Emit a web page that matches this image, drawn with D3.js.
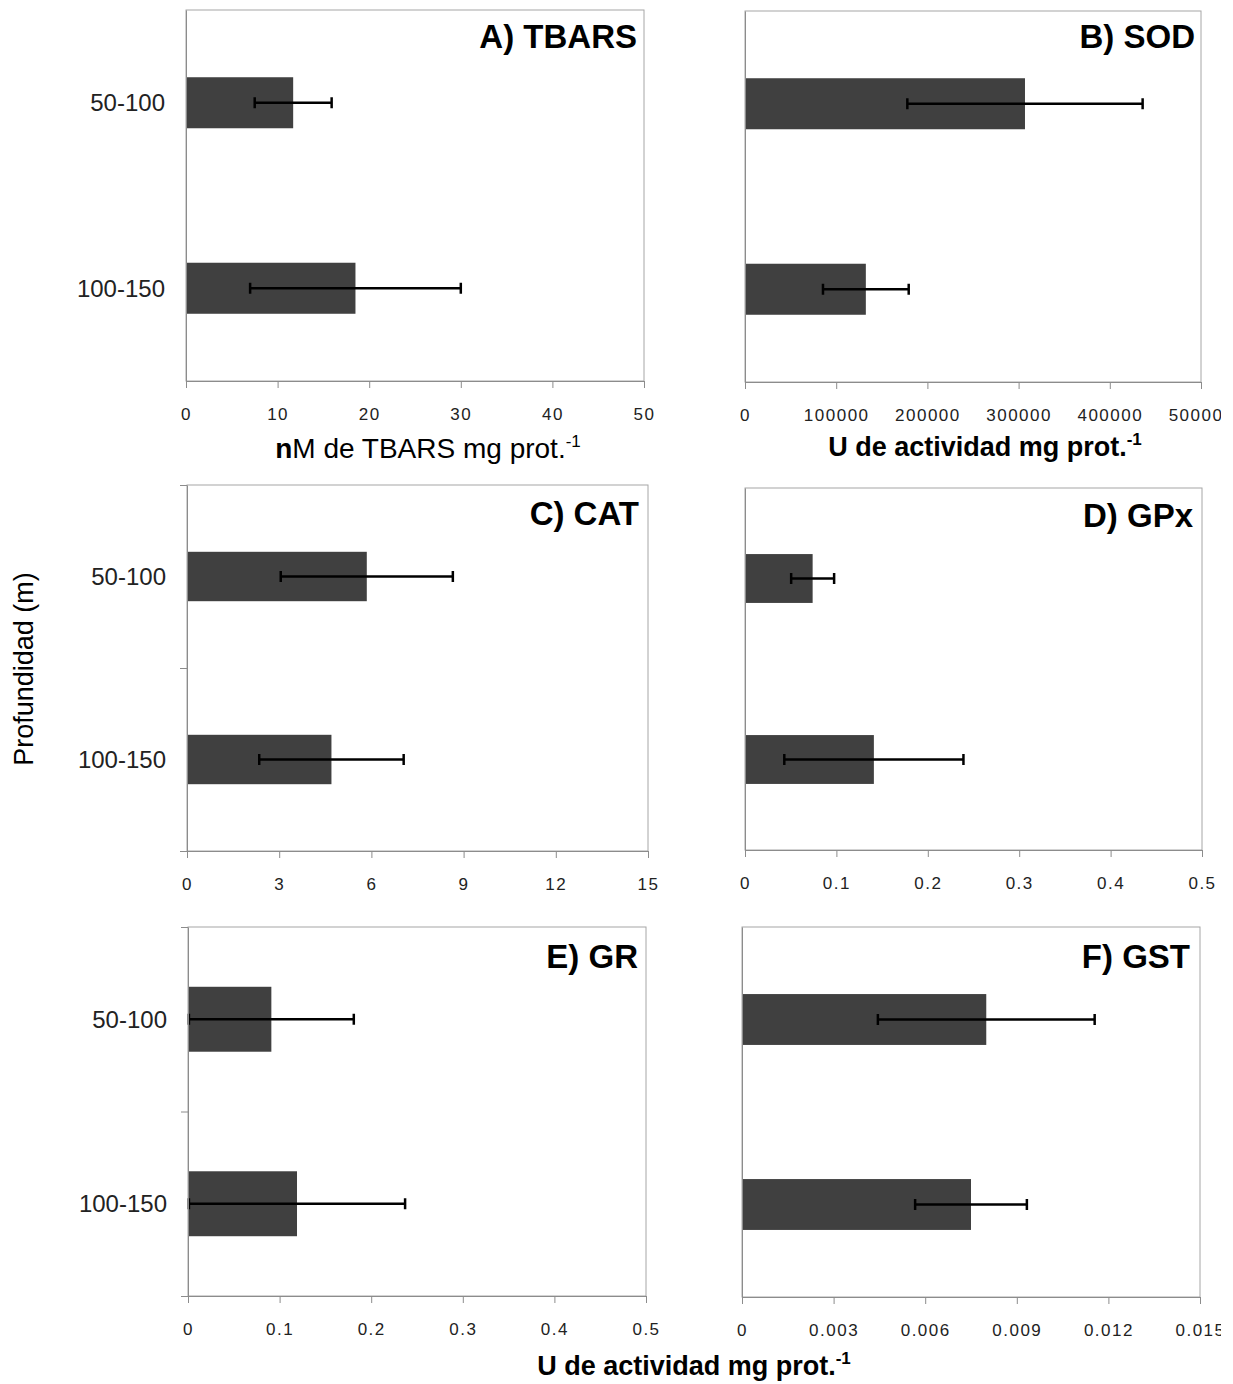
<!DOCTYPE html>
<html>
<head>
<meta charset="utf-8">
<script src="https://cdn.jsdelivr.net/npm/d3@7"></script>
<style>
  html, body { margin: 0; padding: 0; background: #fff; }
  svg { display: block; font-family: Arial, "Liberation Sans", sans-serif; }
</style>
</head>
<body>
<svg id="chart" width="1233" height="1384"></svg>
<script>
// ---- data ----
const categories = ["50-100", "100-150"];

const tbarsMean = [11.7, 18.5];
const tbarsSD   = [4.2, 11.5];
const tbarsTicks = [0, 10, 20, 30, 40, 50];
const tbarsTickLabels = ["0", "10", "20", "30", "40", "50"];

const sodMean = [307000, 132500];
const sodSD   = [129000, 47000];
const sodTicks = [0, 100000, 200000, 300000, 400000, 500000];
const sodTickLabels = ["0", "100000", "200000", "300000", "400000", "500000"];

const catMean = [5.85, 4.7];
const catSD   = [2.8, 2.35];
const catTicks = [0, 3, 6, 9, 12, 15];
const catTickLabels = ["0", "3", "6", "9", "12", "15"];

const gpxMean = [0.074, 0.141];
const gpxSD   = [0.0235, 0.098];
const gpxTicks = [0, 0.1, 0.2, 0.3, 0.4, 0.5];
const gpxTickLabels = ["0", "0.1", "0.2", "0.3", "0.4", "0.5"];

const grMean = [0.091, 0.119];
const grSD   = [0.09, 0.118];
const grTicks = [0, 0.1, 0.2, 0.3, 0.4, 0.5];
const grTickLabels = ["0", "0.1", "0.2", "0.3", "0.4", "0.5"];

const gstMean = [0.008, 0.0075];
const gstSD   = [0.00355, 0.00183];
const gstTicks = [0, 0.003, 0.006, 0.009, 0.012, 0.015];
const gstTickLabels = ["0", "0.003", "0.006", "0.009", "0.012", "0.015"];

const panelTitles = ["A) TBARS", "B) SOD", "C) CAT", "D) GPx", "E) GR", "F) GST"];
const yAxisTitle = "Profundidad (m)";
const xTitleA = ["n", "M de TBARS mg prot."];
const xTitleU = "U de actividad mg prot.";
const superscript = "-1";

// ---- layout ----
const svg = d3.select("#chart");
svg.append("defs").append("clipPath").attr("id", "pageclip")
  .append("rect").attr("x", 0).attr("y", 0).attr("width", 1221).attr("height", 1384);
const root = svg.append("g").attr("clip-path", "url(#pageclip)");

const panels = [
  { title: panelTitles[0], mean: tbarsMean, sd: tbarsSD, ticks: tbarsTicks, labels: tbarsTickLabels,
    l: 186, r: 644, t: 10, b: 381, pad: 0.725, catLabels: true, leftTicks: false, tx: 637, ty: 48 },
  { title: panelTitles[1], mean: sodMean, sd: sodSD, ticks: sodTicks, labels: sodTickLabels,
    l: 745, r: 1201, t: 11, b: 382, pad: 0.725, catLabels: false, leftTicks: false, tx: 1195, ty: 48 },
  { title: panelTitles[2], mean: catMean, sd: catSD, ticks: catTicks, labels: catTickLabels,
    l: 187, r: 648, t: 485, b: 851, pad: 0.73, catLabels: true, leftTicks: true, tx: 639, ty: 525 },
  { title: panelTitles[3], mean: gpxMean, sd: gpxSD, ticks: gpxTicks, labels: gpxTickLabels,
    l: 745, r: 1202, t: 488, b: 850, pad: 0.73, catLabels: false, leftTicks: false, tx: 1193, ty: 527 },
  { title: panelTitles[4], mean: grMean, sd: grSD, ticks: grTicks, labels: grTickLabels,
    l: 188, r: 646, t: 927, b: 1296, pad: 0.648, catLabels: true, leftTicks: true, tx: 638, ty: 968 },
  { title: panelTitles[5], mean: gstMean, sd: gstSD, ticks: gstTicks, labels: gstTickLabels,
    l: 742, r: 1200, t: 927, b: 1297, pad: 0.725, catLabels: false, leftTicks: false, tx: 1190, ty: 968 }
];

panels.forEach(p => {
  const g = root.append("g");
  const x = d3.scaleLinear()
    .domain([p.ticks[0], p.ticks[p.ticks.length - 1]])
    .range([p.l, p.r]);
  const y = d3.scaleBand().domain(categories).range([p.t, p.b])
    .paddingInner(p.pad).paddingOuter(p.pad / 2);

  // frame
  g.append("rect")
    .attr("x", p.l).attr("y", p.t)
    .attr("width", p.r - p.l).attr("height", p.b - p.t)
    .attr("fill", "none").attr("stroke", "#a6a6a6").attr("stroke-width", 1);

  // bars
  g.selectAll("rect.bar").data(categories).enter().append("rect")
    .attr("class", "bar")
    .attr("x", x(0))
    .attr("y", c => y(c))
    .attr("width", (c, i) => x(p.mean[i]) - x(0))
    .attr("height", y.bandwidth())
    .attr("fill", "#404040");

  // error bars
  const eg = g.selectAll("g.err").data(categories).enter().append("g").attr("class", "err");
  const cy = c => y(c) + y.bandwidth() / 2;
  const lo = i => Math.max(0, p.mean[i] - p.sd[i]);
  const hi = i => p.mean[i] + p.sd[i];
  eg.append("line")
    .attr("x1", (c, i) => x(lo(i))).attr("x2", (c, i) => x(hi(i)))
    .attr("y1", cy).attr("y2", cy)
    .attr("stroke", "#000").attr("stroke-width", 2.5);
  eg.append("line")
    .attr("x1", (c, i) => x(lo(i))).attr("x2", (c, i) => x(lo(i)))
    .attr("y1", c => cy(c) - 5.5).attr("y2", c => cy(c) + 5.5)
    .attr("stroke", "#000").attr("stroke-width", 2.5);
  eg.append("line")
    .attr("x1", (c, i) => x(hi(i))).attr("x2", (c, i) => x(hi(i)))
    .attr("y1", c => cy(c) - 5.5).attr("y2", c => cy(c) + 5.5)
    .attr("stroke", "#000").attr("stroke-width", 2.5);

  // x axis
  const xAxis = d3.axisBottom(x)
    .tickValues(p.ticks)
    .tickSize(7).tickPadding(20)
    .tickFormat((d, i) => p.labels[i]);
  const xa = g.append("g").attr("transform", `translate(0,${p.b})`).call(xAxis);
  xa.select(".domain").attr("stroke", "#8c8c8c");
  xa.selectAll(".tick line").attr("stroke", "#8c8c8c");
  xa.selectAll(".tick text").attr("font-size", 17).attr("fill", "#222")
    .attr("letter-spacing", 1.5)
    .attr("font-family", "Arial, 'Liberation Sans', sans-serif");

  // left axis
  const yl = d3.scaleLinear().domain([0, categories.length]).range([p.t, p.b]);
  const yAxis = d3.axisLeft(yl)
    .tickValues(d3.range(0, categories.length + 1))
    .tickSize(p.leftTicks ? 7 : 0).tickSizeOuter(0)
    .tickFormat("");
  const ya = g.append("g").attr("transform", `translate(${p.l},0)`).call(yAxis);
  ya.select(".domain").attr("stroke", "#8c8c8c");
  ya.selectAll(".tick line").attr("stroke", "#8c8c8c");

  // category labels
  if (p.catLabels) {
    g.selectAll("text.cat").data(categories).enter().append("text")
      .attr("class", "cat")
      .attr("x", p.l - 21)
      .attr("y", c => cy(c))
      .attr("dy", "0.36em")
      .attr("text-anchor", "end")
      .attr("font-size", 24)
      .attr("fill", "#222")
      .text(c => c);
  }

  // panel title
  g.append("text")
    .attr("x", p.tx).attr("y", p.ty)
    .attr("text-anchor", "end")
    .attr("font-size", 33).attr("font-weight", "bold")
    .attr("fill", "#000")
    .text(p.title);
});

// axis titles
const tA = root.append("text").attr("x", 428).attr("y", 458)
  .attr("text-anchor", "middle").attr("font-size", 28).attr("fill", "#000");
tA.append("tspan").attr("font-weight", "bold").text(xTitleA[0]);
tA.append("tspan").text(xTitleA[1]);
tA.append("tspan").attr("dy", -11).attr("font-size", 17).text(superscript);

function uTitle(cx, by) {
  const t = root.append("text").attr("x", cx).attr("y", by)
    .attr("text-anchor", "middle").attr("font-size", 27).attr("font-weight", "bold")
    .attr("fill", "#000");
  t.append("tspan").text(xTitleU);
  t.append("tspan").attr("dy", -11).attr("font-size", 17).text(superscript);
}
uTitle(985, 456);
uTitle(694, 1375);

root.append("text")
  .attr("transform", "translate(33,669) rotate(-90)")
  .attr("text-anchor", "middle")
  .attr("font-size", 27)
  .attr("fill", "#000")
  .text(yAxisTitle);
</script>
</body>
</html>
